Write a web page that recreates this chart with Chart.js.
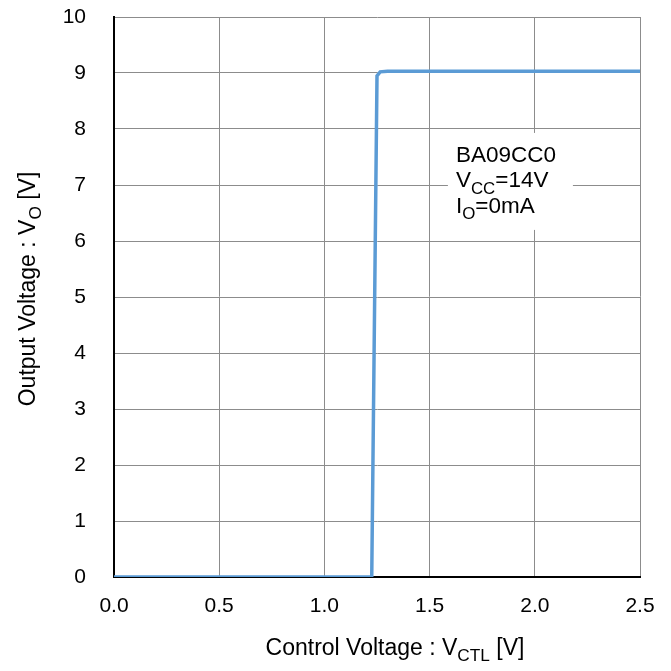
<!DOCTYPE html>
<html>
<head>
<meta charset="utf-8">
<script src="https://cdn.jsdelivr.net/npm/chart.js@4"></script>
<style>
  html, body { margin: 0; padding: 0; background: #fff; }
  #wrap { width: 671px; height: 671px; }
</style>
</head>
<body>
<div id="wrap"><canvas id="chart" width="671" height="671"></canvas></div>
<script>
// data
const ctlVoltage = [0, 1.225, 1.25, 1.265, 1.3, 1.5, 2.0, 2.5];
const outVoltage = [0, 0, 8.95, 9.02, 9.03, 9.03, 9.03, 9.03];
const xTicks = [0, 0.5, 1.0, 1.5, 2.0, 2.5];
const yTicks = [0, 1, 2, 3, 4, 5, 6, 7, 8, 9, 10];
const noteLines = [
  [['BA09CC0', false]],
  [['V', false], ['CC', true], ['=14V', false]],
  [['I', false], ['O', true], ['=0mA', false]]
];
const xTitle = [['Control Voltage : V', false], ['CTL', true], [' [V]', false]];
const yTitle = [['Output Voltage : V', false], ['O', true], [' [V]', false]];

const FONT = 'Arial, "Liberation Sans", sans-serif';

// draw text runs, subscript parts smaller and lower
function drawRuns(ctx, runs, x, y, size, align) {
  let total = 0;
  runs.forEach(r => {
    ctx.font = (r[1] ? size * 0.75 : size) + 'px ' + FONT;
    total += ctx.measureText(r[0]).width;
  });
  let cx = align === 'center' ? x - total / 2 : x;
  ctx.textAlign = 'left';
  ctx.textBaseline = 'alphabetic';
  runs.forEach(r => {
    ctx.font = (r[1] ? size * 0.75 : size) + 'px ' + FONT;
    ctx.fillText(r[0], cx, r[1] ? y + size * 0.28 : y);
    cx += ctx.measureText(r[0]).width;
  });
}

const extras = {
  id: 'extras',
  beforeDatasetsDraw(chart) {
    const ctx = chart.ctx;
    const xs = chart.scales.x, ys = chart.scales.y;
    ctx.save();
    // white note box over the grid
    const bx = xs.getPixelForValue(1.587), by = ys.getPixelForValue(7.93);
    ctx.fillStyle = '#fff';
    ctx.fillRect(bx, by, 125, 97);
    ctx.fillStyle = '#000';
    noteLines.forEach((line, i) => {
      drawRuns(ctx, line, bx + 8, by + 29 + i * 25.5, 22.5, 'left');
    });
    ctx.restore();
  },
  afterDraw(chart) {
    const ctx = chart.ctx;
    ctx.save();
    ctx.fillStyle = '#000';
    drawRuns(ctx, xTitle, 395, 655, 23, 'center');
    ctx.translate(35, 289);
    ctx.rotate(-Math.PI / 2);
    drawRuns(ctx, yTitle, 0, 0, 23, 'center');
    ctx.restore();
  }
};

new Chart(document.getElementById('chart'), {
  type: 'line',
  data: {
    datasets: [{
      data: ctlVoltage.map((v, i) => ({ x: v, y: outVoltage[i] })),
      borderColor: '#5b9bd5',
      borderWidth: 3.5,
      pointRadius: 0,
      tension: 0,
      fill: false
    }]
  },
  options: {
    responsive: false,
    animation: false,
    layout: { padding: { top: 17, right: 31, left: 0, bottom: 0 } },
    plugins: { legend: { display: false }, tooltip: { enabled: false } },
    scales: {
      x: {
        type: 'linear',
        min: 0, max: 2.5,
        afterBuildTicks: s => { s.ticks = xTicks.map(v => ({ value: v })); },
        afterFit: s => { s.height = 94; s.paddingLeft = 0; s.paddingRight = 0; },
        grid: { color: '#8c8c8c', lineWidth: 1, drawTicks: false },
        border: { color: '#000', width: 2 },
        ticks: {
          padding: 17,
          color: '#000',
          font: { family: FONT, size: 21 },
          callback: v => v.toFixed(1)
        }
      },
      y: {
        min: 0, max: 10,
        afterBuildTicks: s => { s.ticks = yTicks.map(v => ({ value: v })); },
        afterFit: s => { s.width = 114; s.paddingTop = 0; s.paddingBottom = 0; },
        grid: { color: '#8c8c8c', lineWidth: 1, drawTicks: false },
        border: { color: '#000', width: 2 },
        ticks: {
          padding: 28,
          color: '#000',
          font: { family: FONT, size: 21 },
          callback: v => String(v)
        }
      }
    }
  },
  plugins: [extras]
});
</script>
</body>
</html>
